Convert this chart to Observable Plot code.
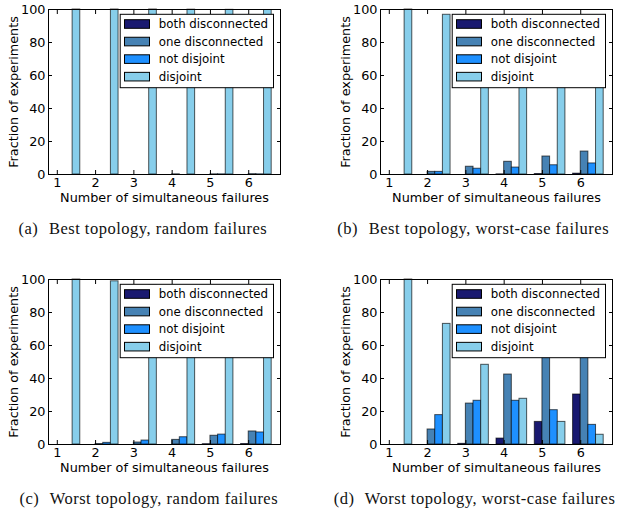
<!DOCTYPE html>
<html>
<head>
<meta charset="utf-8">
<script src="https://cdn.jsdelivr.net/npm/d3@7"></script>
<script src="https://cdn.jsdelivr.net/npm/@observablehq/plot@0.6"></script>
<style>
  html, body { margin: 0; padding: 0; background: #fff; overflow: hidden; }
  #root { position: relative; width: 618px; height: 518px; background: #fff; }
  .panel { position: absolute; }
  .cap { position: absolute; width: 320px; text-align: center; white-space: nowrap;
         font-family: "Liberation Serif", "DejaVu Serif", serif; font-size: 16.5px; line-height: 16px;
         letter-spacing: 0.5px; color: #111; }
  .cap .lab { margin-right: 6px; }
</style>
</head>
<body>
<div id="root"></div>
<script>
// ---- data ----
const failures = [1, 2, 3, 4, 5, 6];
const series = ["both disconnected", "one disconnected", "not disjoint", "disjoint"];
const colors = ["#191970", "#4682b4", "#1e90ff", "#87ceeb"];
const yTicks = [0, 20, 40, 60, 80, 100];

// (a) Best topology, random failures
const bestRandomBoth     = [0, 0, 0, 0, 0, 0];
const bestRandomOne      = [0, 0, 0, 0.1, 0.1, 0.2];
const bestRandomNot      = [0, 0, 0, 0, 0.1, 0.1];
const bestRandomDisjoint = [100, 100, 100, 99.9, 99.8, 99.7];

// (b) Best topology, worst-case failures
const bestWorstBoth     = [0, 0, 0, 0.1, 0.3, 0.5];
const bestWorstOne      = [0, 1.6, 4.7, 7.7, 10.9, 13.9];
const bestWorstNot      = [0, 1.6, 3.5, 4.2, 5.6, 6.7];
const bestWorstDisjoint = [100, 96.8, 91.8, 88.0, 83.2, 78.9];

// (c) Worst topology, random failures
const worstRandomBoth     = [0, 0, 0, 0, 0.2, 0.3];
const worstRandomOne      = [0, 0.3, 1.2, 2.8, 5.3, 7.9];
const worstRandomNot      = [0, 1.0, 2.4, 4.4, 6.0, 7.3];
const worstRandomDisjoint = [100, 98.9, 96.4, 92.8, 88.5, 84.5];

// (d) Worst topology, worst-case failures
const worstWorstBoth     = [0, 0, 0.4, 3.6, 13.7, 30.3];
const worstWorstOne      = [0, 9.1, 24.8, 42.4, 53, 53];
const worstWorstNot      = [0, 17.8, 26.5, 26.5, 20.8, 11.9];
const worstWorstDisjoint = [100, 73.1, 48.3, 27.7, 13.7, 5.9];

const captions = [
  ["(a)", "Best topology, random failures"],
  ["(b)", "Best topology, worst-case failures"],
  ["(c)", "Worst topology, random failures"],
  ["(d)", "Worst topology, worst-case failures"]
];

const offsets = [-0.2, 0, 0.2, 0.4];
const barWidth = 0.2;

function makePanel(vals, marginLeft, marginRight) {
  const rows = [];
  failures.forEach((f, i) => series.forEach((s, j) => rows.push({f, s, j, v: vals[j][i]})));
  const W = 309, H = 240, mt = 9, mb = 66;
  const plot = Plot.plot({
    width: W, height: H, marginTop: mt, marginBottom: mb, marginLeft, marginRight,
    style: {fontFamily: "DejaVu Sans", fontSize: "12.8px", color: "black", background: "white", overflow: "visible"},
    x: {type: "linear", domain: [0.77, 6.83]},
    y: {domain: [0, 100]},
    marks: [
      Plot.rectY(rows, {
        x1: d => d.f + offsets[d.j], x2: d => d.f + offsets[d.j] + barWidth,
        y1: 0, y2: "v",
        fill: d => colors[d.j], stroke: "black", strokeOpacity: 0.65, strokeWidth: 1
      }),
      Plot.axisX({anchor: "bottom", ticks: failures, tickSize: 0, tickPadding: 3.5, tickFormat: d => String(d), label: null, fill: "black"}),
      Plot.axisX({anchor: "bottom", ticks: failures, tickSize: -4, text: null, label: null}),
      Plot.axisX({anchor: "top", ticks: failures, tickSize: -4, text: null, label: null}),
      Plot.axisY({anchor: "left", ticks: yTicks, tickSize: 0, tickPadding: 3, label: null, fill: "black"}),
      Plot.axisY({anchor: "left", ticks: yTicks, tickSize: -4, text: null, label: null}),
      Plot.axisY({anchor: "right", ticks: yTicks, tickSize: -4, text: null, label: null}),
      Plot.frame({stroke: "black", strokeWidth: 1}),
      Plot.text(["Number of simultaneous failures"], {frameAnchor: "bottom", dy: 27.5, lineAnchor: "bottom", textAnchor: "middle", fill: "black"}),
      Plot.text(["Fraction of experiments"], {frameAnchor: "left", dx: -35, rotate: -90, textAnchor: "middle", fill: "black"})
    ]
  });
  // legend (inside frame, top right), drawn on top of bars
  const svg = d3.select(plot);
  const fr = W - marginRight;
  const lw = 153.3, lh = 73.4;
  const lx = fr - 6.5 - lw, ly = mt + 5.3;
  const g = svg.append("g").attr("font-family", "DejaVu Sans").attr("font-size", "11.8px").attr("text-anchor", "start");
  g.append("rect").attr("x", lx).attr("y", ly).attr("width", lw).attr("height", lh)
    .attr("fill", "white").attr("stroke", "black").attr("stroke-width", 1);
  series.forEach((s, j) => {
    const cy = ly + 9.7 + j * 17.55;
    g.append("rect").attr("x", lx + 4.3).attr("y", cy - 4.3).attr("width", 25).attr("height", 8.6)
      .attr("fill", colors[j]).attr("stroke", "black").attr("stroke-width", 1);
    g.append("text").attr("x", lx + 38.6).attr("y", cy).attr("dy", "0.36em")
      .attr("text-anchor", "start").attr("fill", "black").text(s);
  });
  return plot;
}

const root = document.getElementById("root");
const panels = [
  {vals: [bestRandomBoth, bestRandomOne, bestRandomNot, bestRandomDisjoint], left: 0, top: 0, ml: 48, mr: 29, capCenter: 142.8, capBase: 234.3},
  {vals: [bestWorstBoth, bestWorstOne, bestWorstNot, bestWorstDisjoint], left: 309, top: 0, ml: 71, mr: 6, capCenter: 473.2, capBase: 234.3},
  {vals: [worstRandomBoth, worstRandomOne, worstRandomNot, worstRandomDisjoint], left: 0, top: 270, ml: 48, mr: 29, capCenter: 148.8, capBase: 503.5},
  {vals: [worstWorstBoth, worstWorstOne, worstWorstNot, worstWorstDisjoint], left: 309, top: 270, ml: 71, mr: 6, capCenter: 474.5, capBase: 503.5}
];
panels.forEach((p, k) => {
  const div = document.createElement("div");
  div.className = "panel";
  div.style.left = p.left + "px";
  div.style.top = p.top + "px";
  div.appendChild(makePanel(p.vals, p.ml, p.mr));
  root.appendChild(div);
  const cap = document.createElement("div");
  cap.className = "cap";
  cap.style.left = (p.capCenter - 160) + "px";
  cap.style.top = (p.capBase - 13) + "px";
  const lab = document.createElement("span");
  lab.className = "lab";
  lab.textContent = captions[k][0];
  cap.appendChild(lab);
  cap.appendChild(document.createTextNode(" " + captions[k][1]));
  root.appendChild(cap);
});
</script>
</body>
</html>
